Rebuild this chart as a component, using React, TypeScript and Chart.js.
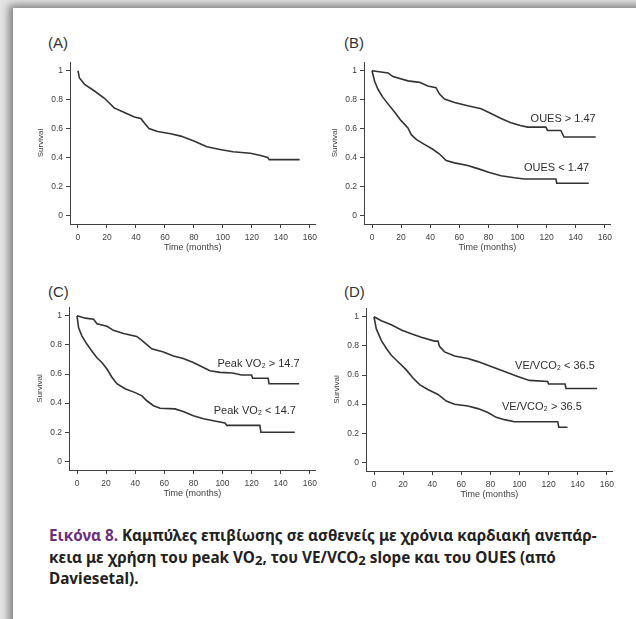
import React, { useEffect, useRef } from "react";
import { Chart, registerables } from "chart.js";

Chart.register(...registerables);

// ---------- axis ticks ----------
const xTicks = [0, 20, 40, 60, 80, 100, 120, 140, 160];
const xTickLabels = ["0", "20", "40", "60", "80", "100", "120", "140", "160"];
const yTicks = [0, 0.2, 0.4, 0.6, 0.8, 1];
const yTickLabels = ["0", "0.2", "0.4", "0.6", "0.8", "1"];

// ---------- Panel A : all patients ----------
const aTime = [0, 1, 4.6, 11.4, 18.3, 25, 32, 38.9, 43.4, 45.7, 49, 55, 64, 71, 80, 89, 98, 107, 119, 126, 131, 132, 153];
const aSurv = [1, 0.95, 0.906, 0.86, 0.81, 0.743, 0.711, 0.68, 0.67, 0.64, 0.6, 0.58, 0.564, 0.548, 0.514, 0.474, 0.456, 0.44, 0.43, 0.414, 0.4, 0.385, 0.385];

// ---------- Panel B : OUES ----------
const bHighTime = [0, 11, 14.4, 24.7, 32.7, 38.4, 44, 46.4, 49.8, 56.7, 65.8, 75, 81.8, 88.7, 95.5, 102, 107, 119.5, 120.7, 129.8, 132, 153.8];
const bHighSurv = [1, 0.985, 0.96, 0.93, 0.92, 0.895, 0.883, 0.839, 0.805, 0.78, 0.758, 0.737, 0.704, 0.67, 0.641, 0.621, 0.61, 0.61, 0.587, 0.587, 0.542, 0.542];
const bLowTime = [0, 1.8, 4.1, 7.5, 11, 15.5, 20, 24.7, 27, 30.4, 36, 41.8, 46.4, 51, 56.7, 65.8, 72.7, 80.7, 88.7, 97.8, 104.7, 126.4, 127, 149];
const bLowSurv = [1, 0.928, 0.872, 0.816, 0.771, 0.715, 0.655, 0.605, 0.558, 0.525, 0.491, 0.457, 0.424, 0.379, 0.363, 0.345, 0.323, 0.296, 0.274, 0.26, 0.251, 0.251, 0.222, 0.222];

// ---------- Panel C : peak VO2 ----------
const cHighTime = [0, 5.7, 11.4, 13.7, 20.6, 25, 32, 41, 44.6, 48, 51.4, 59.4, 66.3, 73, 80, 86.9, 91.4, 98.3, 107, 113, 120, 120.7, 131.4, 132, 152.7];
const cHighSurv = [1, 0.984, 0.977, 0.946, 0.928, 0.9, 0.879, 0.858, 0.831, 0.802, 0.773, 0.751, 0.724, 0.706, 0.679, 0.645, 0.622, 0.611, 0.607, 0.593, 0.593, 0.571, 0.571, 0.533, 0.533];
const cLowTime = [0, 1.1, 3.4, 6.9, 10.3, 13.7, 17.1, 20.6, 24, 27.4, 33, 40, 44.6, 48, 52.6, 57.1, 67.4, 73, 80, 86.9, 93.7, 101.7, 103, 125.7, 126.4, 149.7];
const cLowSurv = [1, 0.917, 0.861, 0.804, 0.757, 0.712, 0.679, 0.634, 0.578, 0.533, 0.499, 0.472, 0.45, 0.416, 0.382, 0.364, 0.36, 0.342, 0.313, 0.292, 0.279, 0.263, 0.247, 0.247, 0.2, 0.2];

// ---------- Panel D : VE/VCO2 ----------
const dLowSlopeTime = [0, 5, 11.9, 18.8, 25.6, 32.5, 41.6, 44, 45, 48.5, 55.4, 64.5, 71.4, 80.5, 89.7, 98.8, 106.8, 119.4, 120, 131.3, 132, 153.3];
const dLowSlopeSurv = [1, 0.973, 0.946, 0.91, 0.883, 0.86, 0.833, 0.833, 0.797, 0.759, 0.73, 0.714, 0.692, 0.658, 0.624, 0.59, 0.563, 0.556, 0.538, 0.538, 0.507, 0.507];
const dHighSlopeTime = [0, 1.6, 5, 8.5, 11.9, 16.5, 22.2, 26.8, 31.4, 37, 44, 49.7, 55.4, 64.5, 71.4, 78.3, 84, 89.7, 96.5, 126.3, 127, 133];
const dHighSlopeSurv = [1, 0.917, 0.838, 0.782, 0.736, 0.691, 0.635, 0.579, 0.534, 0.5, 0.466, 0.421, 0.399, 0.387, 0.369, 0.342, 0.309, 0.293, 0.279, 0.279, 0.241, 0.241];

// ---------- curve labels ----------
const bNoteTexts = ["OUES > 1.47", "OUES < 1.47"];
const bNoteTime = [109, 104.5];
const bNoteSurv = [0.67, 0.327];
const cNoteTexts = ["Peak VO\u2082 > 14.7", "Peak VO\u2082 < 14.7"];
const cNoteTime = [96.5, 94];
const cNoteSurv = [0.67, 0.346];
const dNoteTexts = ["VE/VCO\u2082 < 36.5", "VE/VCO\u2082 > 36.5"];
const dNoteTime = [97, 88];
const dNoteSurv = [0.662, 0.38];

type Curve = { time: number[]; surv: number[] };
type Panel = {
  label: string;
  labelX: number;
  labelY: number;
  area: { l: number; r: number; t: number; b: number };
  curves: Curve[];
  notes: { text: string[]; time: number[]; surv: number[] };
};

const panels: Panel[] = [
  {
    label: "(A)", labelX: 48, labelY: 34,
    area: { l: 70, r: 316, t: 58, b: 224 },
    curves: [{ time: aTime, surv: aSurv }],
    notes: { text: [], time: [], surv: [] },
  },
  {
    label: "(B)", labelX: 344, labelY: 34,
    area: { l: 364, r: 611, t: 58, b: 224 },
    curves: [{ time: bHighTime, surv: bHighSurv }, { time: bLowTime, surv: bLowSurv }],
    notes: { text: bNoteTexts, time: bNoteTime, surv: bNoteSurv },
  },
  {
    label: "(C)", labelX: 48, labelY: 283,
    area: { l: 69, r: 316, t: 303, b: 470 },
    curves: [{ time: cHighTime, surv: cHighSurv }, { time: cLowTime, surv: cLowSurv }],
    notes: { text: cNoteTexts, time: cNoteTime, surv: cNoteSurv },
  },
  {
    label: "(D)", labelX: 344, labelY: 283,
    area: { l: 366, r: 613, t: 304, b: 471 },
    curves: [{ time: dLowSlopeTime, surv: dLowSlopeSurv }, { time: dHighSlopeTime, surv: dHighSlopeSurv }],
    notes: { text: dNoteTexts, time: dNoteTime, surv: dNoteSurv },
  },
];

const FONT = '"Liberation Sans", Arial, sans-serif';
const INK = "#404040";
const Y_W = 34;
const PAD_T = 4;
const PAD_R = 6;
const X_H = 29;

function KMPanel({ p }: { p: Panel }) {
  const ref = useRef<HTMLCanvasElement>(null);
  const w = p.area.r - p.area.l + Y_W + PAD_R;
  const h = p.area.b - p.area.t + PAD_T + X_H;

  useEffect(() => {
    const notePlugin = {
      id: "notes",
      afterDatasetsDraw(chart: any) {
        const ctx = chart.ctx;
        const xs = chart.scales.x;
        const ys = chart.scales.y;
        ctx.save();
        ctx.fillStyle = "#2e2e2e";
        ctx.font = `11px ${FONT}`;
        ctx.textAlign = "left";
        ctx.textBaseline = "middle";
        p.notes.text.forEach((t, i) => {
          ctx.fillText(t, xs.getPixelForValue(p.notes.time[i]), ys.getPixelForValue(p.notes.surv[i]));
        });
        ctx.restore();
      },
    };

    const chart = new Chart(ref.current as HTMLCanvasElement, {
      type: "line",
      data: {
        datasets: p.curves.map((c) => ({
          data: c.time.map((t, i) => ({ x: t, y: c.surv[i] })),
          borderColor: "#333333",
          borderWidth: 1.6,
          pointRadius: 0,
          fill: false,
          tension: 0,
        })),
      },
      options: {
        responsive: false,
        animation: false,
        devicePixelRatio: 1,
        layout: { padding: { top: PAD_T, right: PAD_R, left: 0, bottom: 0 } },
        plugins: { legend: { display: false }, tooltip: { enabled: false }, title: { display: false } },
        scales: {
          x: {
            type: "linear",
            min: -5.5,
            max: 164,
            afterBuildTicks: (s: any) => {
              s.ticks = xTicks.map((v) => ({ value: v }));
            },
            afterFit: (s: any) => {
              s.height = X_H;
            },
            ticks: {
              autoSkip: false,
              maxRotation: 0,
              padding: 5,
              color: INK,
              font: { family: FONT, size: 8.5 },
              callback: (_v: any, i: number) => xTickLabels[i],
            },
            grid: { display: true, drawOnChartArea: false, drawTicks: true, tickLength: 4, color: INK },
            border: { display: true, color: INK, width: 1 },
            title: {
              display: true,
              text: "Time (months)",
              color: INK,
              padding: 0,
              font: { family: FONT, size: 9, lineHeight: 1.2 },
            },
          },
          y: {
            type: "linear",
            min: -0.06,
            max: 1.06,
            afterBuildTicks: (s: any) => {
              s.ticks = yTicks.map((v) => ({ value: v }));
            },
            afterFit: (s: any) => {
              s.width = Y_W;
            },
            ticks: {
              autoSkip: false,
              padding: 3,
              color: INK,
              font: { family: FONT, size: 8.5 },
              callback: (_v: any, i: number) => yTickLabels[i],
            },
            grid: { display: true, drawOnChartArea: false, drawTicks: true, tickLength: 4, color: INK },
            border: { display: true, color: INK, width: 1 },
            title: {
              display: true,
              text: "Survival",
              color: INK,
              padding: 0,
              font: { family: FONT, size: 8, lineHeight: 1.2 },
            },
          },
        },
      },
      plugins: [notePlugin],
    } as any);
    return () => chart.destroy();
  }, []);

  return (
    <>
      <div
        style={{
          position: "absolute",
          left: p.labelX,
          top: p.labelY,
          fontFamily: FONT,
          fontSize: 15,
          lineHeight: "18px",
          color: "#333",
        }}
      >
        {p.label}
      </div>
      <canvas
        ref={ref}
        width={w}
        height={h}
        style={{ position: "absolute", left: p.area.l - Y_W, top: p.area.t - PAD_T, width: w, height: h }}
      />
    </>
  );
}

const subStyle: React.CSSProperties = { fontSize: "0.85em", verticalAlign: "-0.15em", lineHeight: 0 };

export default function App() {
  return (
    <div
      style={{
        position: "absolute",
        left: 0,
        top: 0,
        width: 636,
        height: 619,
        overflow: "hidden",
        background: "#e4e4e4",
      }}
    >
      <div
        style={{
          position: "absolute",
          left: 13,
          top: 8,
          width: 700,
          height: 700,
          background: "#fff",
          boxShadow: "-4px -3px 8px rgba(0,0,0,0.45)",
        }}
      />
      {panels.map((p) => (
        <KMPanel key={p.label} p={p} />
      ))}
      <div
        style={{
          position: "absolute",
          left: 49,
          top: 525,
          fontFamily: '"Noto Sans", sans-serif',
          fontWeight: 700,
          fontSize: 15.3,
          lineHeight: "21.5px",
          color: "#222",
          whiteSpace: "nowrap",
        }}
      >
        <span style={{ color: "#6d2d80" }}>Εικόνα 8.</span> Καμπύλες επιβίωσης σε ασθενείς με χρόνια καρδιακή ανεπάρ-
        <br />
        κεια με χρήση του peak VO<sub style={subStyle}>2</sub>, του VE/VCO<sub style={subStyle}>2</sub> slope και του OUES (από
        <br />
        Daviesetal).
      </div>
    </div>
  );
}
